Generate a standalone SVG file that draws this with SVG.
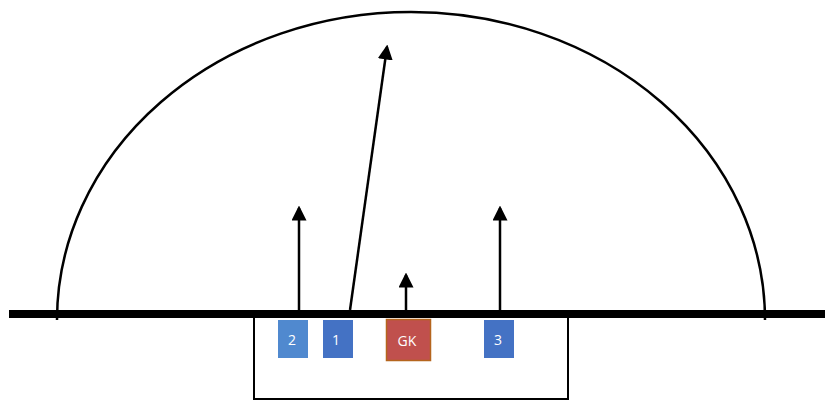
<svg xmlns="http://www.w3.org/2000/svg" width="825" height="401" viewBox="0 0 825 401">
<style>
.ln{stroke:#000;fill:none;stroke-width:2.5}
.lbl{font-family:"Open Sans","Liberation Sans",sans-serif;font-size:14px;fill:#fff;text-anchor:middle;dominant-baseline:central}
.blue{fill:#4472C4}
</style>
<defs>
<marker id="ah" markerWidth="6" markerHeight="6" refX="5" refY="3" orient="auto" markerUnits="strokeWidth">
<path d="M0,0 L6,3 L0,6 Z" fill="#000"/>
</marker>
</defs>
<rect width="825" height="401" fill="#fff"/>
<g id="dome">
<path class="ln" d="M57,320 A354,308 0 0 1 765,320"/>
</g>
<g id="box">
<rect x="254" y="314" width="314" height="85" fill="none" stroke="#000" stroke-width="2"/>
</g>
<g id="ground">
<line x1="9" y1="314" x2="825" y2="314" stroke="#000" stroke-width="8"/>
</g>
<g id="connectors">
<line class="ln" x1="299" y1="310" x2="299" y2="208" marker-end="url(#ah)"/>
<line class="ln" x1="350" y1="310" x2="387" y2="47" marker-end="url(#ah)"/>
<line class="ln" x1="406" y1="310" x2="406" y2="275" marker-end="url(#ah)"/>
<line class="ln" x1="500" y1="310" x2="500" y2="208" marker-end="url(#ah)"/>
</g>
<g id="n2">
<rect x="278" y="320" width="30" height="38" fill="#5089CF"/>
<text class="lbl" x="292" y="339">2</text>
</g>
<g id="n1">
<rect class="blue" x="323" y="320" width="30" height="38"/>
<text class="lbl" x="336" y="339">1</text>
</g>
<g id="gk">
<rect x="386.5" y="319.5" width="44" height="41" fill="#C0504D" stroke="#B5651D" stroke-width="1.5"/>
<text class="lbl" x="407" y="340">GK</text>
</g>
<g id="n3">
<rect class="blue" x="484" y="320" width="30" height="38"/>
<text class="lbl" x="498" y="339">3</text>
</g>
</svg>
